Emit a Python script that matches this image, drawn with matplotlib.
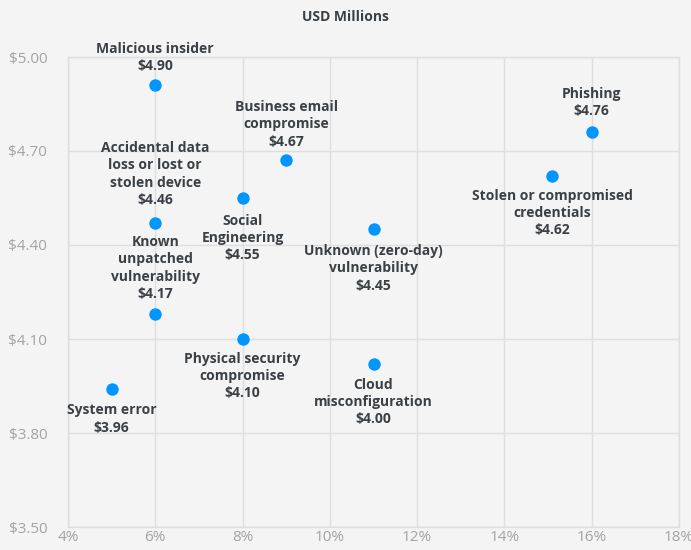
import numpy as np
import matplotlib
matplotlib.use("Agg")
import matplotlib.pyplot as plt

plt.rcParams['font.family'] = ['Open Sans', 'DejaVu Sans']

# frequency (% of breaches) and average cost (USD millions)
names = [
    "Malicious insider",
    "Business email\ncompromise",
    "Accidental data\nloss or lost or\nstolen device",
    "Social\nEngineering",
    "Known\nunpatched\nvulnerability",
    "Phishing",
    "Stolen or compromised\ncredentials",
    "Unknown (zero-day)\nvulnerability",
    "Physical security\ncompromise",
    "System error",
    "Cloud\nmisconfiguration",
]
freq = [6.0, 9.0, 6.0, 8.0, 6.0, 16.0, 15.1, 11.0, 8.0, 5.0, 11.0]
cost = [4.91, 4.67, 4.47, 4.55, 4.18, 4.76, 4.62, 4.45, 4.10, 3.94, 4.02]
cost_labels = ["$4.90", "$4.67", "$4.46", "$4.55", "$4.17", "$4.76",
               "$4.62", "$4.45", "$4.10", "$3.96", "$4.00"]

# label placement relative to the dot (pixels, +y is up)
label_offsets = [28, 36, 49, -40, 46, 30, -37, -39, -37, -30, -38]

bg = "#f4f4f4"
grid_c = "#dedede"

fig = plt.figure(figsize=(6.91, 5.5), dpi=100, facecolor=bg)
ax = fig.add_axes([68/691, 1-527/550, (679-68)/691, (527-57)/550])
ax.set_facecolor(bg)

ax.scatter(freq, cost, s=80, color="#0096ff", zorder=3, linewidths=0)

for n, x, y, lab, off in zip(names, freq, cost, cost_labels, label_offsets):
    ax.annotate(n + "\n" + lab, (x, y), xytext=(0, off), textcoords="offset pixels",
                ha="center", va="center", fontsize=10, fontweight="bold",
                color="#3b4045", linespacing=1.3, zorder=4)

ax.set_xlim(4, 18)
ax.set_ylim(3.5, 5.0)
ax.set_xticks(np.arange(4, 19, 2))
ax.set_xticklabels([f"{v}%" for v in range(4, 19, 2)])
ax.set_yticks([3.5, 3.8, 4.1, 4.4, 4.7, 5.0])
ax.set_yticklabels(["$3.50", "$3.80", "$4.10", "$4.40", "$4.70", "$5.00"])
ax.tick_params(length=0, labelsize=11, colors="#a3a3a3")
ax.tick_params(axis="x", pad=2)
ax.tick_params(axis="y", pad=15)
ax.grid(True, color=grid_c, linewidth=1)
ax.set_axisbelow(True)
for s in ax.spines.values():
    s.set_color(grid_c)
    s.set_linewidth(1)

fig.text(345/691, 1-17/550, "USD Millions", ha="center", va="center",
         fontsize=10, fontweight="bold", color="#3b4045")

fig.savefig("out.png", dpi=100, facecolor=bg)
